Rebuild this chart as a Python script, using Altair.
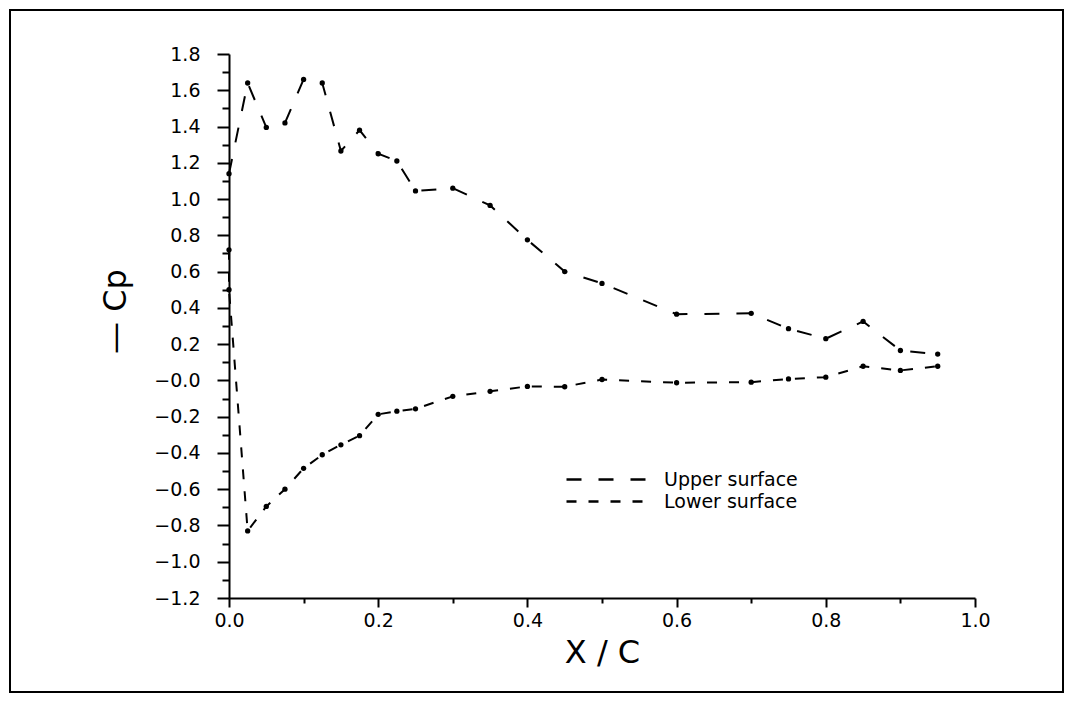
import altair as alt
import pandas as pd

# ---- data ----
upper_x = [0.0, 0.025, 0.05, 0.075, 0.1, 0.125, 0.15, 0.175, 0.2, 0.225, 0.25,
           0.3, 0.35, 0.4, 0.45, 0.5, 0.6, 0.7, 0.75, 0.8, 0.85, 0.9, 0.95]
upper_cp = [1.14, 1.64, 1.395, 1.42, 1.66, 1.64, 1.265, 1.38, 1.25, 1.21, 1.045,
            1.06, 0.965, 0.775, 0.60, 0.535, 0.365, 0.37, 0.285, 0.23, 0.325, 0.165, 0.145]

lower_x = [0.0, 0.0, 0.025, 0.05, 0.075, 0.1, 0.125, 0.15, 0.175, 0.2, 0.225, 0.25,
           0.3, 0.35, 0.4, 0.45, 0.5, 0.6, 0.7, 0.75, 0.8, 0.85, 0.9, 0.95]
lower_cp = [0.72, 0.50, -0.83, -0.695, -0.60, -0.485, -0.41, -0.355, -0.305, -0.187, -0.17, -0.157,
            -0.088, -0.06, -0.033, -0.035, 0.005, -0.013, -0.01, 0.008, 0.018, 0.078, 0.055, 0.078]

series_names = ["Upper  surface", "Lower  surface"]
x_major = [0.0, 0.2, 0.4, 0.6, 0.8, 1.0]
x_minor = [0.1, 0.3, 0.5, 0.7, 0.9]
y_major = [-1.2, -1.0, -0.8, -0.6, -0.4, -0.2, 0.0, 0.2, 0.4, 0.6, 0.8, 1.0,
           1.2, 1.4, 1.6, 1.8]
y_minor = [-1.1, -0.9, -0.7, -0.5, -0.3, -0.1, 0.1, 0.3, 0.5, 0.7, 0.9, 1.1,
           1.3, 1.5, 1.7]

rows = []
for i, (x, c) in enumerate(zip(upper_x, upper_cp)):
    rows.append({"series": series_names[0], "x": x, "cp": c, "i": i})
for i, (x, c) in enumerate(zip(lower_x, lower_cp)):
    rows.append({"series": series_names[1], "x": x, "cp": c, "i": i})
df = pd.DataFrame(rows)

FONT = "DejaVu Sans"
W, H = 746, 544
PAD = {"left": 221, "top": 46, "right": 90, "bottom": 96}

x_scale = alt.Scale(domain=[0, 1], nice=False, zero=False)
y_scale = alt.Scale(domain=[-1.2, 1.8], nice=False, zero=False)

x_axis_major = alt.Axis(
    orient="bottom",
    values=x_major,
    title="X / C",
    titleFontSize=32,
    titleFont=FONT,
    titleFontWeight="normal",
    titleY=64,
    titleBaseline="alphabetic",
    format=".1f",
    labelFontSize=19,
    labelPadding=4,
    labelFlush=False,
    labelOverlap=False,
    tickSize=9,
)
y_axis_major = alt.Axis(
    orient="left",
    values=y_major,
    title="—  Cp",
    titleFontSize=32,
    titleFont=FONT,
    titleFontWeight="normal",
    titleX=-114,
    titleY=257,
    titleAngle=270,
    titleAlign="center",
    titleBaseline="middle",
    labelExpr="datum.value == 0 ? '\u22120.0' : format(datum.value, '.1f')",
    labelFontSize=19,
    labelPadding=17,
    labelFlush=False,
    labelOverlap=False,
    tickSize=12,
)
x_axis_minor = alt.Axis(
    orient="bottom", values=x_minor, labels=False, domain=False, title="", tickSize=5
)
y_axis_minor = alt.Axis(
    orient="left", values=y_minor, labels=False, domain=False, title="", tickSize=7
)

lines = alt.Chart(df).mark_line(color="black", strokeWidth=2).encode(
    x=alt.X("x:Q", scale=x_scale, axis=x_axis_major),
    y=alt.Y("cp:Q", scale=y_scale, axis=y_axis_major),
    order=alt.Order("i:Q"),
    strokeDash=alt.StrokeDash(
        "series:N",
        scale=alt.Scale(domain=series_names, range=[[15, 17], [10, 12]]),
        legend=alt.Legend(
            title=None,
            orient="none",
            legendX=366,
            legendY=414,
            symbolType="M-4,0L4,0",
            symbolSize=400,
            symbolStrokeWidth=2.5,
            symbolStrokeColor="black",
            symbolFillColor="transparent",
            labelFont=FONT,
            labelFontSize=19,
            labelColor="black",
            labelOffset=46,
            rowPadding=0,
            padding=0,
        ),
    ),
)

points = alt.Chart(df).mark_circle(color="black", size=28, opacity=1).encode(
    x=alt.X("x:Q", scale=x_scale, axis=x_axis_minor),
    y=alt.Y("cp:Q", scale=y_scale, axis=y_axis_minor),
)

border = alt.Chart(pd.DataFrame({"b": [0]})).mark_rect(
    filled=False, stroke="black", strokeWidth=2
).encode(
    x=alt.value(-PAD["left"] + 2),
    x2=alt.value(W + PAD["right"] - 2),
    y=alt.value(-PAD["top"] + 2),
    y2=alt.value(H + PAD["bottom"] - 2),
)

chart = (
    alt.layer(border, lines, points)
    .resolve_axis(x="independent", y="independent")
    .properties(
        width=W,
        height=H,
        autosize=alt.AutoSizeParams(type="none"),
        padding=PAD,
        background="white",
    )
    .configure_view(stroke=None)
    .configure_axis(
        grid=False,
        domainColor="black",
        domainWidth=2,
        tickColor="black",
        tickWidth=2,
        labelColor="black",
        labelFont=FONT,
        titleColor="black",
    )
)

chart.save("out.html", embed_options={"renderer": "svg", "actions": False})
